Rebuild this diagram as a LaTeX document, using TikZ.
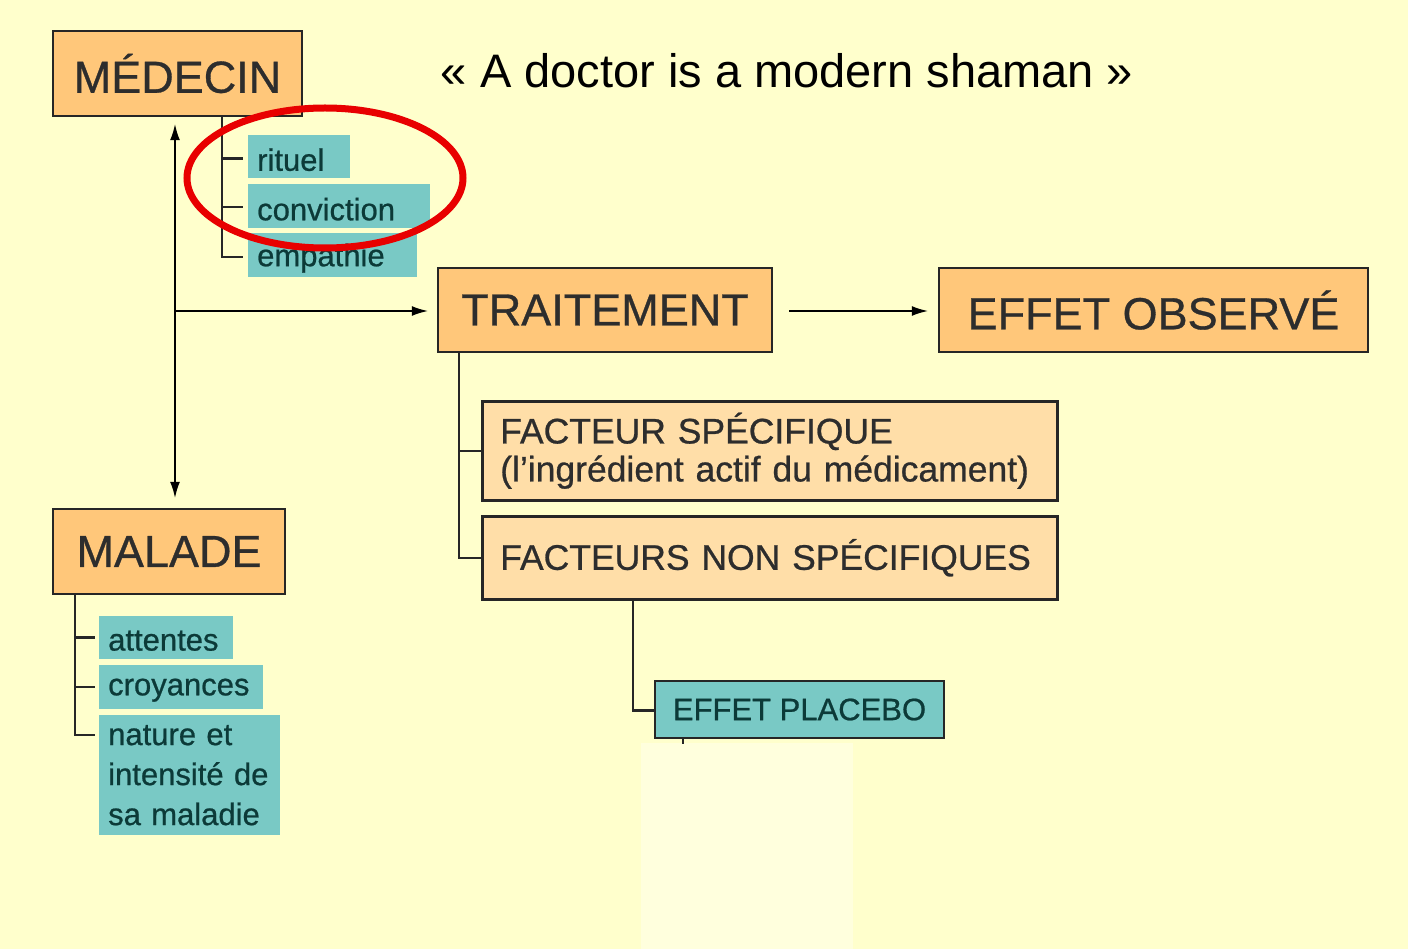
\documentclass[tikz,border=0pt]{standalone}
\usepackage{fontspec}
\setmainfont{Liberation Sans}
\newfontfamily\heavyfont{Liberation Sans}[FakeBold=0.7]
\usetikzlibrary{arrows.meta}

\definecolor{bgyellow}{RGB}{255,255,204}
\definecolor{bglight}{RGB}{255,255,221}
\definecolor{boxorange}{RGB}{255,199,122}
\definecolor{boxpeach}{RGB}{255,222,168}
\definecolor{boxtext}{RGB}{45,45,45}
\definecolor{itemteal}{RGB}{121,201,197}
\definecolor{itemtext}{RGB}{12,58,56}
\definecolor{ringred}{RGB}{232,0,0}

\newcommand{\lowtext}[1]{\raisebox{-3pt}[\height][\depth]{#1}}

\tikzset{
  mainbox/.style={draw=black!85, line width=2.5pt, fill=boxorange, text=boxtext,
    font=\heavyfont\fontsize{45}{54}\selectfont, inner sep=0pt},
  factbox/.style={draw=black!85, line width=2.5pt, fill=boxpeach, text=boxtext,
    font=\heavyfont\fontsize{35.5}{38}\selectfont, align=left, anchor=north west,
    inner xsep=18pt, inner ysep=0pt},
  itembox/.style={fill=itemteal, text=itemtext, font=\heavyfont\fontsize{31}{40}\selectfont,
    align=left, anchor=north west, inner xsep=9pt, inner ysep=0pt},
  treeline/.style={line width=2.5pt, black!85},
  flow/.style={line width=2.5pt, -{Latex[length=17pt,width=10pt]}},
}

\begin{document}
\begin{tikzpicture}[x=1pt,y=-1pt]
\fill[bgyellow] (0,0) rectangle (1408,949);
\fill[bglight] (641,743) rectangle (853,949);

\node[text=black, font=\fontsize{47}{56}\selectfont] (quote) at (787,71) {« A doctor is a modern shaman »};

% main boxes
\node[mainbox, minimum width=249, minimum height=85] (medecin) at (177.5,73.5) {MÉDECIN};
\node[mainbox, minimum width=334, minimum height=84] (traitement) at (605,310) {TRAITEMENT};
\node[mainbox, minimum width=429, minimum height=84] (effet) at (1153.5,310) {EFFET OBSERVÉ};
\node[mainbox, minimum width=232, minimum height=85] (malade) at (169,551.5) {MALADE};

% medecin items
\node[itembox, text width=84, minimum height=43] (rituel) at (248,135) {\lowtext{rituel}};
\node[itembox, text width=164, minimum height=44] (conviction) at (248,184) {\lowtext{conviction}};
\node[itembox, text width=151, minimum height=44] (empathie) at (248,233) {\lowtext{empathie}};

% malade items
\node[itembox, text width=116, minimum height=43] (attentes) at (99,616) {\lowtext{attentes}};
\node[itembox, text width=146, minimum height=44] (croyances) at (99,665) {\lowtext{croyances}};
\node[itembox, text width=163, minimum height=120] (nature) at (99,715) {nature et\\intensité de\\sa maladie};

% facteurs
\node[factbox, text width=539, minimum height=99] (spec) at (481,400) {FACTEUR SPÉCIFIQUE\\(l’ingrédient actif du médicament)};
\node[factbox, text width=539, minimum height=83] (nonspec) at (481,515) {FACTEURS NON SPÉCIFIQUES};
\node[draw=black!85, line width=2.5pt, fill=itemteal, text=itemtext, font=\heavyfont\fontsize{31}{36}\selectfont,
  inner sep=0pt, minimum width=289, minimum height=57] (placebo) at (799.5,709.5) {EFFET PLACEBO};

% connectors
\coordinate (fork) at (175,311);
\coordinate (medfork) at (222,116);
\coordinate (malfork) at (75,594);
\coordinate (trfork) at (459,352);
\coordinate (nsfork) at (633,598);

\draw[flow, {Latex[length=17pt,width=10pt]}-{Latex[length=17pt,width=10pt]}, shorten <=6pt, shorten >=9pt]
  (medecin.south -| fork) -- (malade.north -| fork);
\draw[flow, shorten >=8pt] (fork) -- (traitement.west |- fork);
\draw[flow, shorten <=16pt, shorten >=9pt] (traitement.east |- fork) -- (effet.west |- fork);

\draw[treeline] (medfork) |- ([shift={(-5,2)}]empathie.west);
\draw[treeline] (medfork |- rituel.west) ++(0,2) -- ([shift={(-5,2)}]rituel.west);
\draw[treeline] (medfork |- conviction.west) ++(0,1) -- ([shift={(-5,1)}]conviction.west);

\draw[treeline] (malfork) |- ([shift={(-4,20)}]nature.north west);
\draw[treeline] (malfork |- attentes.west) -- ([xshift=-4pt]attentes.west);
\draw[treeline] (malfork |- croyances.west) -- ([xshift=-4pt]croyances.west);

\draw[treeline] (trfork) |- (nonspec.west);
\draw[treeline] (trfork |- spec.west) -- (spec.west);
\draw[treeline] (nsfork) |- ([yshift=-1pt]placebo.west);
\draw[treeline] (placebo.south -| 683,0) -- ++(0,5);

\draw[ringred, line width=7pt] (325,178) ellipse [x radius=138, y radius=70];
\end{tikzpicture}
\end{document}
